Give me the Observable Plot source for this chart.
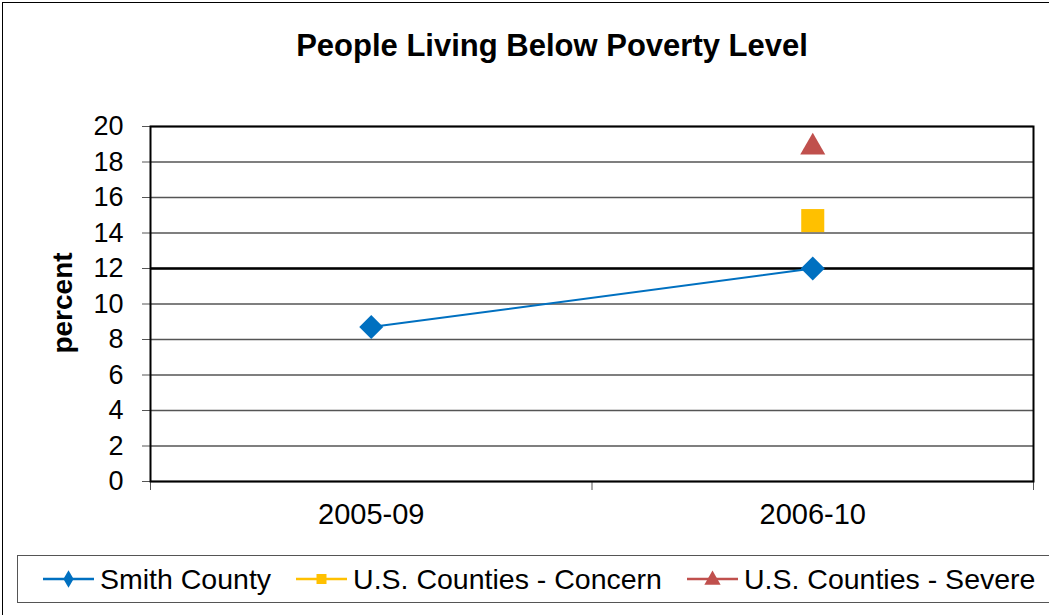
<!DOCTYPE html>
<html><head><meta charset="utf-8">
<script src="https://cdn.jsdelivr.net/npm/d3@7"></script>
<script src="https://cdn.jsdelivr.net/npm/@observablehq/plot@0.6"></script>
<style>
html,body{margin:0;padding:0;background:#fff;}
body{width:1049px;height:615px;position:relative;overflow:hidden;font-family:"Liberation Sans",Arial,sans-serif;color:#000;}
#border{position:absolute;left:2px;top:2px;width:1200px;height:800px;border:1.5px solid #000;box-sizing:border-box;}
#title{position:absolute;left:0;top:30px;width:1104px;text-align:center;font-weight:bold;font-size:31px;line-height:1;white-space:nowrap;}
#ylabel{position:absolute;left:63px;top:303px;transform:translate(-50%,-50%) rotate(-90deg);font-weight:bold;font-size:28px;line-height:1;white-space:nowrap;}
#chart{position:absolute;left:0;top:100px;}
#legend{position:absolute;left:17px;top:555px;width:1100px;height:48px;border:1.5px solid #555;box-sizing:border-box;display:flex;align-items:center;font-size:28.5px;padding-left:25px;}
.item{display:flex;align-items:center;margin-right:25px;white-space:nowrap;}
.item svg{margin-right:6px;}
</style>
</head><body>
<div id="border"></div>
<div id="title"></div>
<div id="ylabel"></div>
<div id="chart"></div>
<div id="legend"></div>
<script>
const chartTitle = "People Living Below Poverty Level";
const yLabel = "percent";
const categories = ["2005-09", "2006-10"];
const smithCounty = [8.7, 12.0];
const concernCategories = ["2006-10"];
const concernValues = [14.7];
const severeCategories = ["2006-10"];
const severeValues = [19.0];
const yTicks = [0, 2, 4, 6, 8, 10, 12, 14, 16, 18, 20];
const emphasisTicks = [12];
const seriesNames = ["Smith County", "U.S. Counties - Concern", "U.S. Counties - Severe"];
const seriesColors = ["#0070C0", "#FFC000", "#C0504D"];
const seriesSymbols = ["diamond2", "square", "triangle"];

document.getElementById("title").textContent = chartTitle;
document.getElementById("ylabel").textContent = yLabel;

const pos = c => categories.indexOf(c) + 0.5;
const smithData = categories.map((c, i) => ({x: pos(c), y: smithCounty[i]}));
const concernData = concernCategories.map((c, i) => ({x: pos(c), y: concernValues[i]}));
const severeData = severeCategories.map((c, i) => ({x: pos(c), y: severeValues[i]}));

const plot = Plot.plot({
  width: 1049,
  height: 440,
  marginTop: 26,
  marginBottom: 59,
  marginLeft: 150,
  marginRight: 16,
  style: {background: "transparent", fontFamily: "Liberation Sans, Arial, sans-serif", fontSize: "27px", color: "#000", overflow: "visible"},
  x: {type: "linear", domain: [0, categories.length], axis: null},
  y: {domain: [0, 20], axis: null},
  marks: [
    Plot.gridY({ticks: yTicks, stroke: "#555", strokeOpacity: 1, strokeWidth: 1.5}),
    Plot.ruleY(emphasisTicks, {stroke: "#000", strokeWidth: 2.5}),
    Plot.axisY({ticks: yTicks, tickSize: 8, tickPadding: 19, stroke: "#555", label: null, tickFormat: d => String(d), fontSize: 27}),
    Plot.axisX({ticks: d3.range(categories.length + 1), tickSize: 9, stroke: "#555", tickFormat: () => "", label: null}),
    Plot.axisX({ticks: categories.map(pos), tickSize: 0, tickPadding: 22, tickFormat: v => categories[Math.floor(v)], label: null, fontSize: 29}),
    Plot.frame({stroke: "#000", strokeWidth: 2}),
    Plot.line(smithData, {x: "x", y: "y", stroke: seriesColors[0], strokeWidth: 2}),
    Plot.dot(smithData, {x: "x", y: "y", symbol: seriesSymbols[0], r: 10.8, fill: seriesColors[0]}),
    Plot.dot(concernData, {x: "x", y: "y", symbol: seriesSymbols[1], r: 13, fill: seriesColors[1]}),
    Plot.dot(severeData, {x: "x", y: "y", symbol: seriesSymbols[2], r: 9.3, fill: seriesColors[2], dy: 3})
  ]
});
document.getElementById("chart").appendChild(plot);

// legend
const legend = d3.select("#legend");
const legendSymbols = [d3.symbolDiamond, d3.symbolSquare, d3.symbolTriangle];
const legendSymbolSize = [90, 100, 115];
seriesNames.forEach((name, i) => {
  const item = legend.append("div").attr("class", "item");
  const svg = item.append("svg").attr("width", 51).attr("height", 24);
  svg.append("line").attr("x1", 0).attr("x2", 51).attr("y1", 12).attr("y2", 12)
    .attr("stroke", seriesColors[i]).attr("stroke-width", 2.5);
  svg.append("path").attr("transform", `translate(25.5,${i === 2 ? 13 : 12})`)
    .attr("d", d3.symbol(legendSymbols[i], legendSymbolSize[i])()).attr("fill", seriesColors[i]);
  item.append("span").text(name);
});
</script>
</body></html>
